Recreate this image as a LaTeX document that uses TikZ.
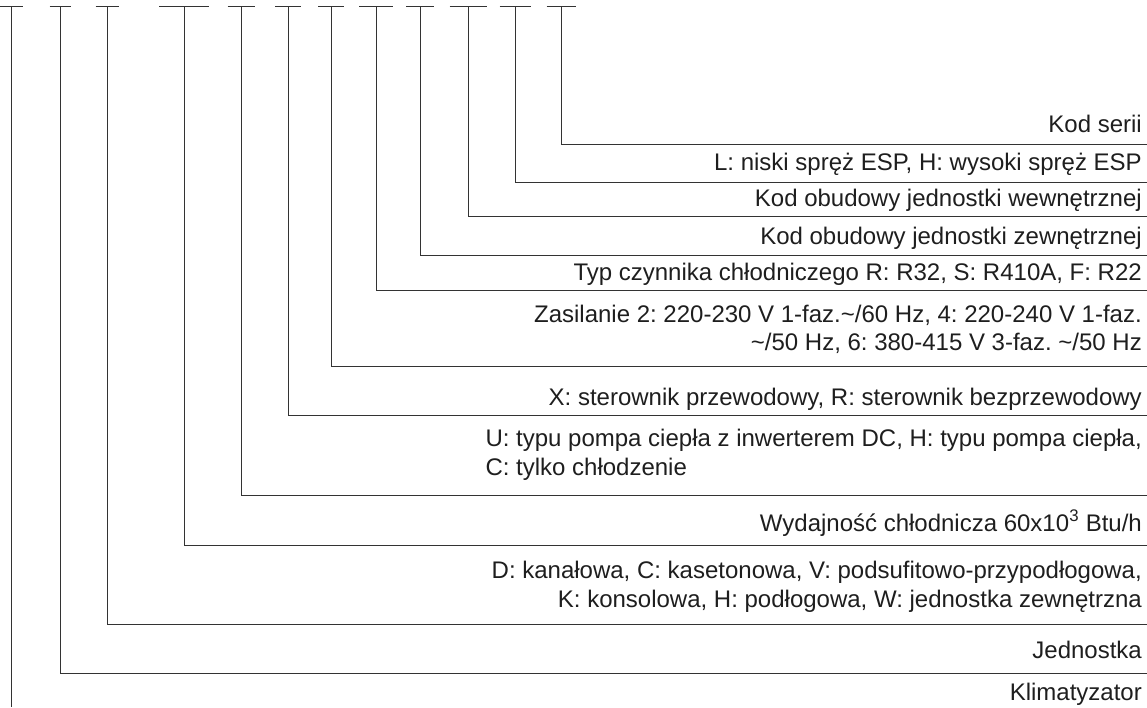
\documentclass[tikz,border=0pt]{standalone}
\usepackage{fontspec}
\setmainfont{Liberation Sans}
\frenchspacing
\definecolor{ln}{HTML}{333333}
\definecolor{tx}{HTML}{1E1E1E}
\tikzset{
  conn/.style={draw=ln, line width=0.9pt},
  lbl/.style={anchor=base east, inner sep=0pt, text=tx, font=\fontsize{24}{29}\selectfont\frenchspacing},
  lbll/.style={lbl, anchor=base west}
}
\begin{document}
\begin{tikzpicture}[x=1pt,y=-1pt]
\useasboundingbox (0,0) rectangle (1147,707);
% labels
\node[lbl] (kod) at (1142,132) {Kod serii};
\node[lbl] (esp) at (1142,170) {L: niski spręż ESP, H: wysoki spręż ESP};
\node[lbl] (wew) at (1142,206) {Kod obudowy jednostki wewnętrznej};
\node[lbl] (zew) at (1142,244) {Kod obudowy jednostki zewnętrznej};
\node[lbl] (typ) at (1142,280) {Typ czynnika chłodniczego R: R32, S: R410A, F: R22};
\node[lbl] (zas1) at (1142,322) {Zasilanie 2: 220-230 V 1-faz.\textasciitilde/60 Hz, 4: 220-240 V 1-faz.};
\node[lbl] (zas2) at (1142,350) {\textasciitilde/50 Hz, 6: 380-415 V 3-faz. \textasciitilde/50 Hz};
\node[lbl] (ster) at (1142,405) {X: sterownik przewodowy, R: sterownik bezprzewodowy};
\node[lbl] (pomp1) at (1142,446) {U: typu pompa ciepła z inwerterem DC, H: typu pompa ciepła,};
\node[lbll] (pomp2) at ([yshift=-29pt]pomp1.base west) {C: tylko chłodzenie};
\node[lbl] (wyd) at (1142,531) {Wydajność chłodnicza 60x10\textsuperscript{3} Btu/h};
\node[lbl] (jt1) at (1142,578) {D: kanałowa, C: kasetonowa, V: podsufitowo-przypodłogowa,};
\node[lbl] (jt2) at (1142,607) {K: konsolowa, H: podłogowa, W: jednostka zewnętrzna};
\node[lbl] (jed) at (1142,658) {Jednostka};
\node[lbl] (klim) at (1142,700) {Klimatyzator};
% code bars and leaders
\foreach \i/\x/\w/\y in {2/60/10.5/673, 3/107/11.5/624, 4/184/25/545, 5/241/13.5/495,
  6/288/13/415, 7/331/13/366, 8/376/17/290, 9/420/14/255, 10/468/18.5/216,
  11/515/15.5/182, 12/561/14.5/144}{
  \coordinate (bl\i) at (\x-\w,6);
  \coordinate (br\i) at (\x+\w,6);
  \coordinate (t\i) at (\x,6);
  \coordinate (c\i) at (\x,\y);
  \coordinate (e\i) at (1147,\y);
  \draw[conn] (bl\i) -- (br\i);
  \draw[conn] (t\i) -- (c\i) -- (e\i);
}
\coordinate (bl1) at (-1,6);
\coordinate (br1) at (23,6);
\coordinate (t1) at (11,6);
\coordinate (c1) at (11,707);
\draw[conn] (bl1) -- (br1);
\draw[conn] (t1) -- (c1);
\end{tikzpicture}
\end{document}
